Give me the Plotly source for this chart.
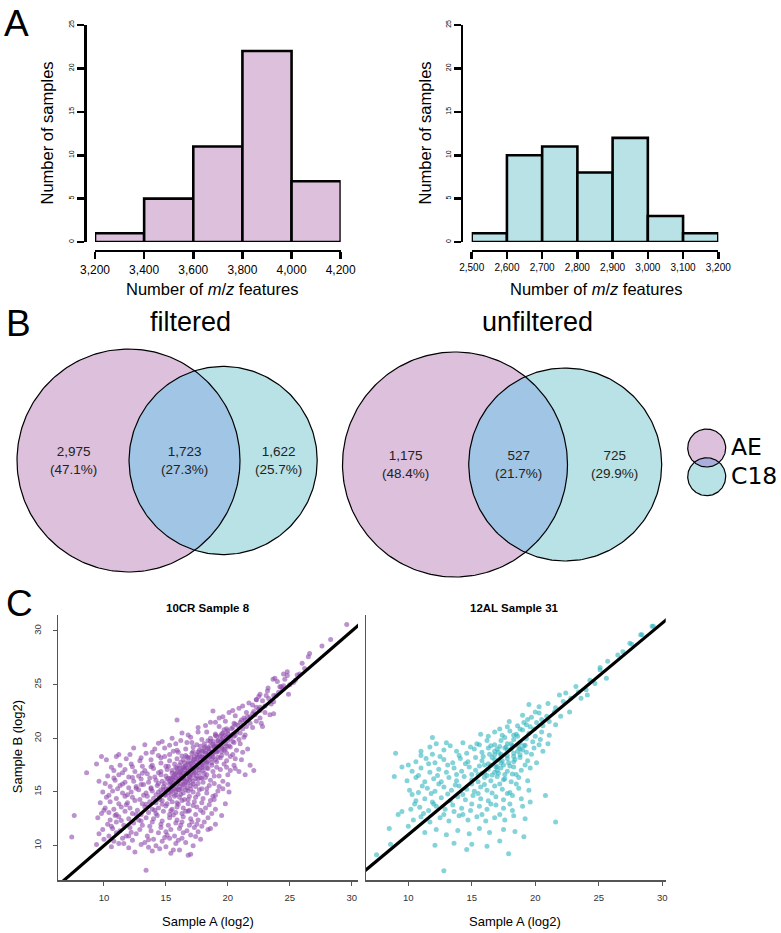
import numpy as np
import plotly.graph_objects as go

W, H = 781, 933

# ---------------- Panel A data ----------------
ae_bin_edges = [3200, 3400, 3600, 3800, 4000, 4200]
ae_counts = [1, 5, 11, 22, 7]
c18_bin_edges = [2500, 2600, 2700, 2800, 2900, 3000, 3100, 3200]
c18_counts = [1, 10, 11, 8, 12, 3, 1]
hist_y_ticks = [0, 5, 10, 15, 20, 25]

# ---------------- Panel B data ----------------
venn_titles = ["filtered", "unfiltered"]
venn_ae_only = [2975, 1175]
venn_both = [1723, 527]
venn_c18_only = [1622, 725]
venn_set_names = ["AE", "C18"]

# ---------------- Panel C data ----------------
scatter_titles = ["10CR Sample 8", "12AL Sample 31"]
scatter_ticks = [10, 15, 20, 25, 30]

left_pts = [
    (13.4,7.7),(16.8,9.1),(17.0,9.2),(12.5,9.4),(13.9,9.5),(15.4,9.3),(16.1,9.6),(14.5,9.7),
    (9.4,10.1),(10.6,9.9),(11.2,10.2),(12.0,9.8),(13.0,10.1),(14.2,10.0),(15.0,9.9),(15.8,10.2),(17.2,10.0),
    (10.0,10.6),(10.8,10.4),(11.5,10.7),(12.3,10.5),(13.3,10.3),(14.0,10.6),(14.7,10.4),(15.3,10.7),(16.0,10.5),(16.6,10.3),(17.8,10.6),
    (7.4,10.8),(9.6,11.1),(10.4,10.9),(11.0,11.2),(11.8,10.9),(12.6,11.1),(13.5,10.9),(14.4,11.2),(15.1,11.0),(15.7,10.9),(16.4,11.2),(17.0,11.0),(17.6,11.3),(18.6,11.6),
    (9.9,11.5),(10.7,11.6),(11.3,11.4),(12.1,11.7),(12.9,11.5),(13.8,11.4),(14.6,11.7),(15.4,11.5),(16.1,11.6),(16.7,11.4),(17.3,11.7),(18.4,11.5),
    (10.3,12.0),(11.0,12.2),(11.6,11.9),(12.4,12.1),(13.1,11.9),(13.9,12.2),(14.6,12.0),(15.2,11.9),(15.8,12.1),(16.3,12.2),(16.9,11.9),(17.5,12.0),(18.1,12.2),(19.0,12.0),
    (9.5,12.6),(10.5,12.4),(11.2,12.7),(12.0,12.5),(12.8,12.4),(13.4,12.6),(14.0,12.5),(14.7,12.3),(15.3,12.6),(15.9,12.4),(16.4,12.7),(17.0,12.5),(17.6,12.4),(18.4,12.6),
    (7.6,12.8),
    (9.8,13.0),(10.4,13.1),(11.0,12.9),(11.7,13.2),(12.3,13.0),(13.0,12.9),(13.6,13.1),(14.2,13.0),(14.8,13.2),(15.3,12.9),(15.8,13.1),(16.3,13.0),(16.8,13.2),(17.4,12.9),(18.0,13.1),(18.7,13.0),(19.5,12.8),
    (10.1,13.5),(10.8,13.4),(11.4,13.6),(12.1,13.5),(12.7,13.3),(13.3,13.6),(13.9,13.4),(14.4,13.5),(15.0,13.7),(15.5,13.4),(15.9,13.6),(16.4,13.5),(16.9,13.3),(17.5,13.6),(18.2,13.5),(19.0,13.4),
    (9.7,14.0),(10.5,14.1),(11.2,13.9),(11.9,14.0),(12.5,14.2),(13.1,13.9),(13.7,14.1),(14.2,14.0),(14.7,14.2),(15.1,13.9),(15.5,14.1),(15.9,14.0),(16.3,14.2),(16.8,13.9),(17.3,14.1),(17.9,14.0),(18.6,14.2),(19.8,13.9),
    (10.2,14.5),(11.0,14.4),(11.7,14.6),(12.3,14.5),(12.9,14.3),(13.5,14.6),(14.0,14.4),(14.5,14.5),(14.9,14.7),(15.3,14.4),(15.7,14.6),(16.1,14.5),(16.5,14.3),(16.9,14.6),(17.4,14.5),(18.0,14.4),(18.8,14.6),
    (9.9,15.0),(10.7,15.1),(11.5,14.9),(12.2,15.0),(12.8,15.2),(13.4,14.9),(13.9,15.1),(14.4,15.0),(14.8,15.2),(15.2,14.9),(15.5,15.1),(15.8,15.0),(16.1,15.2),(16.4,14.9),(16.8,15.1),(17.2,15.0),(17.7,15.2),(18.3,14.9),(19.2,15.1),(20.1,15.0),
    (10.5,15.5),(11.3,15.6),(12.0,15.4),(12.6,15.5),(13.2,15.7),(13.8,15.4),(14.3,15.6),(14.8,15.5),(15.2,15.3),(15.5,15.6),(15.8,15.4),(16.1,15.5),(16.4,15.7),(16.7,15.4),(17.0,15.6),(17.4,15.5),(17.9,15.3),(18.5,15.6),(19.3,15.5),
    (9.6,16.0),(10.9,16.1),(11.7,15.9),(12.4,16.0),(13.0,16.2),(13.6,15.9),(14.2,16.1),(14.7,16.0),(15.1,16.2),(15.4,15.9),(15.7,16.1),(16.0,16.0),(16.3,16.2),(16.6,15.9),(16.9,16.1),(17.2,16.0),(17.6,16.2),(18.0,15.9),(18.6,16.1),(19.6,16.0),
    (10.3,16.5),(11.2,16.6),(12.0,16.4),(12.8,16.5),(13.5,16.7),(14.1,16.4),(14.6,16.6),(15.0,16.5),(15.4,16.3),(15.7,16.6),(16.0,16.4),(16.3,16.5),(16.6,16.7),(16.9,16.4),(17.2,16.6),(17.5,16.5),(17.9,16.3),(18.3,16.6),(18.9,16.5),(20.0,16.6),(21.4,16.6),
    (8.6,16.8),
    (10.8,17.0),(11.7,17.1),(12.5,16.9),(13.3,17.0),(14.0,17.2),(14.6,16.9),(15.1,17.1),(15.5,17.0),(15.9,17.2),(16.2,16.9),(16.5,17.1),(16.8,17.0),(17.1,17.2),(17.4,16.9),(17.7,17.1),(18.0,17.0),(18.4,17.2),(18.8,16.9),(19.4,17.1),(20.2,17.0),(22.1,17.0),
    (9.4,17.6),(11.3,17.5),(12.2,17.6),(13.1,17.4),(13.9,17.5),(14.6,17.7),(15.2,17.4),(15.7,17.6),(16.1,17.5),(16.5,17.3),(16.8,17.6),(17.1,17.4),(17.4,17.5),(17.7,17.7),(18.0,17.4),(18.3,17.6),(18.7,17.5),(19.1,17.3),(19.7,17.6),(20.5,17.5),(21.8,17.5),
    (10.2,18.0),(11.8,18.1),(12.9,17.9),(13.8,18.0),(14.6,18.2),(15.3,17.9),(15.9,18.1),(16.4,18.0),(16.8,18.2),(17.2,17.9),(17.5,18.1),(17.8,18.0),(18.1,18.2),(18.4,17.9),(18.7,18.1),(19.0,18.0),(19.4,18.2),(19.9,17.9),(20.6,18.1),
    (9.8,18.3),(11.2,18.5),(13.4,18.6),(14.4,18.4),(15.3,18.5),(16.0,18.7),(16.6,18.4),(17.1,18.6),(17.5,18.5),(17.9,18.3),(18.2,18.6),(18.5,18.4),(18.8,18.5),(19.1,18.7),(19.5,18.4),(19.9,18.6),(20.4,18.5),
    (12.4,19.1),(14.1,19.0),(14.9,19.1),(15.9,18.9),(16.6,19.0),(17.2,19.2),(17.7,18.9),(18.1,19.1),(18.5,19.0),(18.9,19.2),(19.2,18.9),(19.5,19.1),(19.8,19.0),(20.2,19.2),(20.7,18.9),
    (14.7,19.7),(15.8,19.5),(16.7,19.6),(17.5,19.4),(18.1,19.5),(18.6,19.7),(19.0,19.4),(19.4,19.6),(19.8,19.5),(20.1,19.3),(20.5,19.6),(21.0,19.5),
    (15.5,20.0),(17.0,20.1),(17.9,19.9),(18.6,20.0),(19.1,20.2),(19.5,19.9),(19.9,20.1),(20.2,20.0),(20.5,20.2),(20.9,19.9),(21.3,20.1),
    (16.3,20.5),(18.3,20.6),(19.0,20.4),(19.6,20.5),(20.0,20.7),(20.4,20.4),(20.7,20.6),(21.0,20.5),(21.4,20.3),
    (17.6,21.0),(19.3,21.1),(19.9,20.9),(20.4,21.0),(20.8,21.2),(21.2,20.9),(21.5,21.1),(22.0,21.0),
    (15.9,21.7),(19.0,21.5),(19.8,21.6),(20.5,21.4),(21.0,21.5),(21.4,21.7),(21.8,21.4),(22.3,21.6),
    (19.6,22.0),(20.6,22.1),(21.3,21.9),(21.8,22.0),(22.2,22.2),(22.6,21.9),
    (18.8,22.55),(20.4,22.6),(21.5,22.4),(22.1,22.5),(22.5,22.7),(23.0,22.4),
    (21.2,23.0),(22.0,23.1),(22.6,22.9),(23.0,23.0),(23.5,23.2),
    (22.3,23.6),(22.8,23.5),(23.3,23.7),(23.7,23.4),
    (29.6,30.6),(28.3,29.2),(27.6,28.6),(26.6,27.9),(26.5,27.6),(26.0,27.0),(24.8,26.2),(24.5,26.0),(24.8,25.85),(25.8,26.0),
    (23.65,25.5),(23.8,25.6),(25.45,25.4),(25.3,25.2),(24.3,24.8),(24.5,24.9),(24.4,24.6),(25.0,25.0),(23.25,24.7),(24.9,24.1),
    (24.1,24.3),(23.9,24.0),(22.6,24.1),(23.7,24.0),(22.3,23.6),(23.7,22.3),(23.4,22.2),(22.7,21.4),(22.8,21.1),(26.2,26.5),
    (25.6,25.9),(24.2,24.8),(23.1,24.0),(22.6,22.6),
    (14.6,15.22),(15.0,15.31),(15.4,15.18),(15.7,15.29),(16.0,15.21),(16.3,15.33),(16.6,15.2),(17.0,15.28),
    (14.9,15.76),(15.3,15.71),(15.6,15.82),(15.9,15.74),(16.2,15.79),(16.5,15.7),(16.8,15.83),(17.2,15.75),(17.6,15.78),
    (15.2,16.27),(15.5,16.22),(15.8,16.31),(16.1,16.24),(16.4,16.3),(16.7,16.21),(17.0,16.28),(17.4,16.25),(17.8,16.32),
    (15.5,16.77),(15.8,16.72),(16.1,16.8),(16.4,16.74),(16.7,16.79),(17.0,16.71),(17.3,16.78),(17.7,16.76),(18.1,16.73),
    (15.8,17.27),(16.1,17.22),(16.4,17.3),(16.7,17.24),(17.0,17.29),(17.3,17.21),(17.6,17.28),(17.9,17.26),(18.3,17.23),
    (16.2,17.77),(16.5,17.72),(16.8,17.8),(17.1,17.74),(17.4,17.79),(17.7,17.71),(18.0,17.78),(18.3,17.76),(18.7,17.73),
    (16.7,18.27),(17.0,18.22),(17.3,18.3),(17.6,18.24),(17.9,18.29),(18.2,18.21),(18.5,18.28),(18.8,18.26),(19.2,18.23),
    (17.2,18.77),(17.6,18.72),(17.9,18.8),(18.2,18.74),(18.5,18.79),(18.8,18.71),(19.1,18.78),(19.5,18.76),
    (17.8,19.27),(18.2,19.22),(18.6,19.3),(18.9,19.24),(19.2,19.29),(19.5,19.21),(19.9,19.28),
    (18.4,19.77),(18.8,19.72),(19.2,19.8),(19.6,19.74),(20.0,19.79),(20.4,19.71),
    (19.0,20.27),(19.4,20.22),(19.8,20.3),(20.2,20.24),(20.6,20.29),
    (14.2,14.75),(14.6,14.8),(15.0,14.72),(15.4,14.78),(15.8,14.74),(16.2,14.8),
    (10.6,11.8),(11.4,12.35),(12.2,11.25),(13.0,12.3),(13.7,11.8),(14.3,12.8),(15.0,11.3),(15.6,12.85),(16.2,11.9),(17.1,12.2),(17.9,11.8),
    (10.0,13.3),(10.9,12.8),(11.8,13.8),(12.6,12.9),(13.4,13.85),(14.1,13.3),(14.7,13.85),(15.4,13.25),(16.0,13.85),(16.6,13.2),(17.2,13.75),(17.8,13.3),(18.5,13.8),
    (10.4,14.7),(11.1,15.3),(11.9,14.75),(12.6,15.35),(13.2,14.7),(13.8,15.3),(14.5,14.3),(16.8,14.3),(17.6,14.8),(18.3,15.3),(19.0,14.7),
    (10.1,15.8),(10.8,16.3),(11.5,15.75),(12.3,16.35),(13.0,15.7),(13.7,16.3),(14.4,15.8),(18.2,16.35),(18.9,15.8),(19.3,16.5),
    (10.6,17.3),(11.5,16.8),(12.3,17.35),(13.1,16.75),(13.8,17.35),(14.4,16.8),(15.0,17.4),(19.1,17.8),(19.9,17.3),
    (11.0,18.3),(12.1,18.5),(13.0,18.2),(13.9,18.7),(14.9,18.3),(15.6,18.8),(16.3,18.35),(19.7,18.9),(20.2,18.3),
    (13.3,19.4),(14.4,19.55),(15.3,19.35),(16.2,19.8),(17.1,19.6),(16.8,20.3),(17.6,20.6),(18.2,21.2),
    (18.6,21.5),(19.3,21.9),(20.1,22.4),(20.9,22.8),(21.7,23.3),(22.5,23.9),(23.2,24.4),(24.0,25.3),(24.6,25.5),
    (12.0,10.9),(13.6,10.55),(14.9,10.75),(16.3,10.7),(17.4,10.85),(11.6,10.2),(13.6,9.85),(15.6,9.6),
    (20.6,17.2),(21.1,18.0),(20.9,16.9),(21.6,19.0),(21.2,18.7),(20.0,15.7),(19.6,15.3),(18.9,14.3),
    (19.5,20.4),(19.7,20.8),(20.3,20.9),(20.6,21.3),(21.1,21.7),(21.6,22.0),(22.0,22.3),(22.3,22.9),
    (15.3,16.0),(15.6,16.45),(16.2,16.6),(16.5,16.1),(16.9,16.55),(17.2,17.0),(17.5,17.35),(17.9,17.55),(18.1,17.95),(18.4,18.45),
    (18.7,18.6),(19.0,18.95),(15.9,16.85),(16.3,17.05),(16.6,17.45),(17.0,17.65),(17.3,18.05),(17.7,18.45),(18.0,18.8),(18.4,19.1),
    (18.8,19.45),(19.2,19.75),(19.6,20.05),(20.0,20.45),
]

right_pts = [
    (12.8,6.6),(7.5,8.1),(17.9,8.2),(8.6,9.1),(17.2,9.4),(19.1,9.8),(12.1,9.0),(13.6,9.2),(15.0,9.1),(16.2,8.9),(14.6,8.6),
    (8.5,10.6),(10.0,10.8),(11.3,10.2),(12.2,10.5),(13.0,10.0),(13.9,10.4),(14.8,10.1),(15.6,10.6),(16.4,10.2),(17.5,10.5),(18.4,10.3),
    (9.2,11.9),(10.4,11.4),(11.0,11.7),(11.7,11.2),(12.5,11.6),(13.2,11.3),(14.0,11.8),(14.7,11.4),(15.4,11.7),(16.1,11.3),(16.8,11.6),(17.6,11.4),(18.3,11.8),(19.2,11.5),(21.6,11.2),
    (9.5,12.2),(10.2,12.4),(10.9,12.6),(11.6,12.3),(12.2,12.7),(12.9,12.4),(13.5,12.8),(14.2,12.5),(14.9,12.3),(15.6,12.7),(16.2,12.4),(16.9,12.8),(17.5,12.5),(18.2,12.3),(19.0,12.7),(19.6,13.1),
    (10.6,13.2),(11.3,13.4),(11.9,13.1),(12.6,13.5),(13.3,13.2),(13.9,13.6),(14.5,13.3),(15.1,13.7),(15.7,13.4),(16.3,13.2),(16.9,13.6),(17.5,13.3),(18.2,13.7),(18.9,13.4),(20.8,13.7),
    (10.1,14.2),(10.8,14.0),(11.5,14.4),(12.1,14.1),(12.8,14.5),(13.4,14.2),(14.0,14.6),(14.6,14.3),(15.2,14.1),(15.7,14.5),(16.2,14.2),(16.8,14.6),(17.4,14.3),(18.0,14.0),(18.7,14.4),(19.5,14.2),
    (9.9,15.1),(10.6,15.4),(11.3,15.0),(12.0,15.3),(12.6,15.0),(13.2,15.4),(13.8,15.1),(14.4,15.5),(15.0,15.2),(15.5,15.0),(16.0,15.4),(16.5,15.1),(17.0,15.5),(17.5,15.2),(18.1,15.0),(18.7,15.4),(19.4,15.1),
    (8.9,15.5),(10.3,16.0),(11.0,16.3),(11.7,15.9),(12.4,16.2),(13.0,15.9),(13.6,16.3),(14.2,16.0),(14.8,16.4),(15.3,16.1),(15.8,15.8),(16.3,16.2),(16.8,15.9),(17.3,16.3),(17.8,16.0),(18.3,16.4),(18.9,16.1),(19.6,16.3),
    (9.5,16.4),(10.6,16.9),(11.4,17.2),(12.1,16.8),(12.8,17.1),(13.5,16.8),(14.1,17.2),(14.7,16.9),(15.3,17.3),(15.8,17.0),(16.3,16.7),(16.8,17.1),(17.3,16.8),(17.8,17.2),(18.3,16.9),(18.8,17.3),(19.4,17.0),(20.1,16.8),
    (9.0,17.7),(11.0,17.9),(11.9,17.6),(12.8,18.0),(13.8,17.9),(14.6,17.7),(15.2,18.1),(15.8,17.8),(16.3,18.2),(16.8,17.9),(17.3,17.6),(17.8,18.0),(18.3,17.7),(18.8,18.1),(19.3,17.8),(19.9,18.2),(20.6,17.9),
    (11.9,19.2),(12.2,18.6),(13.0,18.7),(14.3,18.7),(15.4,18.6),(16.2,18.9),(16.8,18.5),(17.3,18.9),(17.8,18.6),(18.3,19.0),(18.8,18.7),(19.3,19.1),(19.8,18.8),(20.4,19.0),(21.0,18.6),
    (15.7,19.5),(16.8,19.7),(17.4,19.4),(18.0,19.8),(18.5,19.5),(19.0,19.9),(19.5,19.6),(20.0,19.3),(20.5,19.7),(21.1,19.4),
    (17.95,20.7),(18.6,20.3),(19.1,20.6),(19.6,20.2),(20.1,20.6),(20.6,20.3),(21.1,20.7),(21.6,20.4),
    (19.0,21.3),(19.7,21.1),(20.3,21.5),(20.9,21.2),(21.5,21.6),(22.0,21.2),(22.7,21.6),
    (19.5,22.3),(20.3,22.1),(21.0,22.4),(21.6,22.0),(22.2,22.6),
    (21.9,23.2),(22.4,23.4),(22.8,22.9),(23.2,24.0),(23.4,23.5),(23.6,22.9),(24.0,23.7),(24.1,23.2),
    (24.3,24.6),(24.7,24.3),(25.1,25.6),(25.6,24.8),(25.1,25.8),(25.7,26.4),(26.5,27.0),(26.9,27.3),(27.45,28.1),(27.6,28.0),
    (28.3,28.9),(28.4,28.9),(29.2,29.7),(29.3,29.7),
    (16.5,16.55),(17.0,16.45),(17.5,16.6),(18.0,16.5),(16.8,17.55),(17.3,17.45),(17.8,17.5),(18.3,17.4),(18.8,17.55),
    (17.2,18.35),(17.7,18.3),(18.2,18.4),(18.7,18.3),(19.2,18.45),(16.0,16.6),(15.5,15.7),(16.0,15.85),(16.6,15.65),
    (17.1,15.8),(17.6,15.7),(18.2,15.75),
    (10.3,13.8),(11.1,14.6),(11.8,13.9),(12.4,14.8),(13.1,13.85),(13.7,14.7),(14.3,13.8),(15.0,14.8),(15.5,13.9),(16.0,14.75),
    (16.6,13.95),(17.2,14.8),(17.8,13.9),(18.5,14.8),
    (10.0,16.6),(10.8,15.6),(11.6,16.7),(12.3,15.6),(13.1,16.6),(13.8,15.7),(14.5,16.7),(15.0,15.7),(15.6,16.5),(16.2,15.6),
    (17.0,16.1),(17.6,15.3),(18.5,15.7),(19.2,16.6),
    (10.5,12.9),(11.2,12.0),(12.0,12.9),(12.8,11.9),(13.6,12.2),(14.3,11.9),(15.0,12.9),(15.8,11.9),(16.5,12.9),(17.2,11.9),(18.0,12.9),
    (11.0,17.5),(11.7,18.3),(12.5,17.4),(13.3,18.4),(14.0,17.5),(14.9,18.3),(15.6,18.5),(16.5,18.4),(17.0,18.1),(17.6,19.2),
    (18.1,18.1),(18.6,19.3),(19.1,18.4),(19.7,17.6),(20.3,18.5),
    (16.3,19.3),(17.2,20.0),(17.8,20.2),(18.3,19.4),(18.8,20.0),(19.3,20.4),(19.9,20.0),(20.5,20.9),(19.4,20.9),(20.0,21.6),
    (16.9,16.4),(17.4,17.0),(17.9,16.8),(18.4,17.1),(16.6,17.3),(17.1,17.8),(17.6,18.2),(18.1,18.6),(18.6,17.9),(19.0,18.0),
    (15.9,17.4),(16.4,17.6),
]

# ---------------- styling ----------------
PINK = "#DCC0DC"
CYAN = "#B8E2E6"
BLUE = "#A0C5E5"
LEG_OVERLAP = "#AAAEDC"
FONT = "Liberation Sans"


def fx(px):
    return px / W


def fy(py):
    return 1 - py / H


fig = go.Figure()

# ---------------- Panel A: histograms ----------------
def add_hist(edges, counts, color, xa, ya):
    mids = [(a + b) / 2 for a, b in zip(edges[:-1], edges[1:])]
    widths = [b - a for a, b in zip(edges[:-1], edges[1:])]
    fig.add_trace(go.Bar(x=mids, y=counts, width=widths, xaxis=xa, yaxis=ya,
                         marker=dict(color=color, line=dict(color="black", width=2.6)),
                         hoverinfo="skip"))


add_hist(ae_bin_edges, ae_counts, PINK, "x", "y")
add_hist(c18_bin_edges, c18_counts, CYAN, "x2", "y2")

hist_axis_common = dict(showline=True, linecolor="black", linewidth=2.6, ticks="outside",
                        ticklen=7, tickwidth=2.6, tickcolor="black", showgrid=False,
                        zeroline=False, anchor="free", fixedrange=True, automargin=False)

fig.update_layout(
    xaxis=dict(domain=[fx(95), fx(340.7)], range=[ae_bin_edges[0], ae_bin_edges[-1]],
               position=fy(250.7), tickvals=ae_bin_edges, tickformat=",",
               tickfont=dict(family=FONT, size=12, color="black"), **hist_axis_common),
    yaxis=dict(domain=[fy(242), fy(25)], range=[0, 25], position=fx(85),
               tickvals=hist_y_ticks, tickangle=-90,
               tickfont=dict(family=FONT, size=7, color="black"), **hist_axis_common),
    xaxis2=dict(domain=[fx(471.7), fx(718.3)], range=[c18_bin_edges[0], c18_bin_edges[-1]],
                position=fy(250.7), tickvals=c18_bin_edges, tickformat=",",
                tickfont=dict(family=FONT, size=10, color="black"), **hist_axis_common),
    yaxis2=dict(domain=[fy(242), fy(25)], range=[0, 25], position=fx(461.7),
                tickvals=hist_y_ticks, tickangle=-90,
                tickfont=dict(family=FONT, size=7, color="black"), **hist_axis_common),
)

# ---------------- Panel B: Venn diagrams ----------------
def lens_area(d, r1, r2):
    if d >= r1 + r2:
        return 0.0
    if d <= abs(r1 - r2):
        return np.pi * min(r1, r2) ** 2
    a1 = r1 ** 2 * np.arccos((d * d + r1 * r1 - r2 * r2) / (2 * d * r1))
    a2 = r2 ** 2 * np.arccos((d * d + r2 * r2 - r1 * r1) / (2 * d * r2))
    a3 = 0.5 * np.sqrt((-d + r1 + r2) * (d + r1 - r2) * (d - r1 + r2) * (d + r1 + r2))
    return a1 + a2 - a3


def solve_distance(r1, r2, target):
    lo, hi = abs(r1 - r2) + 1e-9, r1 + r2
    for _ in range(200):
        mid = (lo + hi) / 2
        if lens_area(mid, r1, r2) > target:
            lo = mid
        else:
            hi = mid
    return (lo + hi) / 2


def circle_xy(c, r, n=240):
    t = np.linspace(0, 2 * np.pi, n)
    return c[0] + r * np.cos(t), c[1] + r * np.sin(t)


def lens_xy(c1, r1, c2, r2, n=160):
    c1, c2 = np.asarray(c1, float), np.asarray(c2, float)
    v = c2 - c1
    d = np.hypot(*v)
    u = v / d
    perp = np.array([-u[1], u[0]])
    a = (d * d + r1 * r1 - r2 * r2) / (2 * d)
    h = np.sqrt(max(r1 * r1 - a * a, 0))
    th1 = np.arctan2(h, a)
    th2 = np.arctan2(h, a - d)
    t2 = np.linspace(th2, 2 * np.pi - th2, n)
    t1 = np.linspace(-th1, th1, n)
    loc = np.vstack([np.stack([d + r2 * np.cos(t2), r2 * np.sin(t2)], 1),
                     np.stack([r1 * np.cos(t1), r1 * np.sin(t1)], 1)])
    world = c1 + loc[:, :1] * u + loc[:, 1:2] * perp
    return world[:, 0], world[:, 1]


def add_venn_shapes(c1, r1, c2, r2, xa, ya, overlap_color, lw=1.2):
    for c, r, col in [(c1, r1, PINK), (c2, r2, CYAN)]:
        x, y = circle_xy(c, r)
        fig.add_trace(go.Scatter(x=x, y=y, xaxis=xa, yaxis=ya, mode="lines", fill="toself",
                                 fillcolor=col, line=dict(width=0), hoverinfo="skip"))
    lx, ly = lens_xy(c1, r1, c2, r2)
    fig.add_trace(go.Scatter(x=lx, y=ly, xaxis=xa, yaxis=ya, mode="lines", fill="toself",
                             fillcolor=overlap_color, line=dict(width=0), hoverinfo="skip"))
    for c, r in [(c1, r1), (c2, r2)]:
        x, y = circle_xy(c, r)
        fig.add_trace(go.Scatter(x=x, y=y, xaxis=xa, yaxis=ya, mode="lines",
                                 line=dict(color="black", width=lw), hoverinfo="skip"))


venn_ae_radius_px = [111.5, 112.5]
venn_center_px = [(128.5, 460.5), (455.0, 464.5)]
venn_box_px = [(0, 340), (340, 680)]
venn_title_x = [190, 537.5]
venn_axes = [("x5", "y5", "xaxis5", "yaxis5"), ("x6", "y6", "xaxis6", "yaxis6")]
annotations = []

for i in range(2):
    n_ae = venn_ae_only[i] + venn_both[i]
    n_c18 = venn_c18_only[i] + venn_both[i]
    total = venn_ae_only[i] + venn_both[i] + venn_c18_only[i]
    r1 = np.sqrt(n_ae / np.pi)
    r2 = np.sqrt(n_c18 / np.pi)
    d = solve_distance(r1, r2, venn_both[i])
    s = venn_ae_radius_px[i] / r1
    cx, cy = venn_center_px[i]
    bx0, bx1 = venn_box_px[i]
    by0, by1 = 335, 590
    xa, ya, xk, yk = venn_axes[i]
    fig.layout[xk] = dict(domain=[fx(bx0), fx(bx1)], range=[(bx0 - cx) / s, (bx1 - cx) / s],
                          visible=False, anchor=ya, fixedrange=True, automargin=False)
    fig.layout[yk] = dict(domain=[fy(by1), fy(by0)], range=[(cy - by1) / s, (cy - by0) / s],
                          visible=False, anchor=xa, fixedrange=True, automargin=False)
    add_venn_shapes((0, 0), r1, (d, 0), r2, xa, ya, BLUE)
    label_x = [(-r1 + d - r2) / 2, (d - r2 + r1) / 2, (r1 + d + r2) / 2]
    label_n = [venn_ae_only[i], venn_both[i], venn_c18_only[i]]
    for lx_, n in zip(label_x, label_n):
        annotations.append(dict(x=lx_, y=0, xref=xa, yref=ya, showarrow=False,
                                text=f"{n:,}<br>({100 * n / total:.1f}%)",
                                font=dict(family=FONT, size=13.5, color="#222"),
                                align="center", xanchor="center", yanchor="middle"))
    annotations.append(dict(x=fx(venn_title_x[i]), y=fy(322), xref="paper", yref="paper",
                            showarrow=False, text=venn_titles[i],
                            font=dict(family=FONT, size=27, color="black"),
                            xanchor="center", yanchor="middle"))

# Venn legend (pixel-unit axes)
fig.layout["xaxis7"] = dict(domain=[fx(675), fx(781)], range=[675, 781], visible=False,
                            anchor="y7", fixedrange=True, automargin=False)
fig.layout["yaxis7"] = dict(domain=[fy(505), fy(420)], range=[505, 420], visible=False,
                            anchor="x7", fixedrange=True, automargin=False)
add_venn_shapes((706.7, 448), 19, (706.7, 476.7), 19, "x7", "y7", LEG_OVERLAP, lw=1.2)
for name, ypx in zip(venn_set_names, [446.5, 475.5]):
    annotations.append(dict(x=fx(729), y=fy(ypx), xref="paper", yref="paper", showarrow=False,
                            text=name, font=dict(family="DejaVu Sans", size=23.5, color="black"),
                            xanchor="left", yanchor="middle"))

# ---------------- Panel C: scatter plots ----------------
lx = [p[0] for p in left_pts]
ly = [p[1] for p in left_pts]
rx = [p[0] for p in right_pts]
ry = [p[1] for p in right_pts]

left_xrange = [6.29, 30.51]
left_yrange = [6.8, 31.49]
right_xrange = [6.67, 30.27]
right_yrange = [5.72, 30.77]

fig.add_trace(go.Scatter(x=lx, y=ly, xaxis="x3", yaxis="y3", mode="markers",
                         marker=dict(size=5, color="rgba(142,74,172,0.6)", line=dict(width=0)),
                         hoverinfo="skip"))
fig.add_trace(go.Scatter(x=rx, y=ry, xaxis="x4", yaxis="y4", mode="markers",
                         marker=dict(size=5, color="rgba(50,182,192,0.6)", line=dict(width=0)),
                         hoverinfo="skip"))
for xa, ya, xr, yr in [("x3", "y3", left_xrange, left_yrange), ("x4", "y4", right_xrange, right_yrange)]:
    lo = min(xr[0], yr[0])
    hi = max(xr[1], yr[1])
    fig.add_trace(go.Scatter(x=[lo, hi], y=[lo, hi], xaxis=xa, yaxis=ya, mode="lines",
                             line=dict(color="black", width=3.2), hoverinfo="skip"))

sc_common = dict(showline=True, linecolor="#555", linewidth=1.5, showgrid=False, zeroline=False,
                 fixedrange=True, automargin=False)
tick_font = dict(family=FONT, size=9.5, color="#333")
fig.update_layout(
    xaxis3=dict(domain=[fx(58), fx(358)], range=left_xrange, anchor="y3", tickvals=scatter_ticks,
                ticks="outside", ticklen=4, tickcolor="#555", tickfont=tick_font,
                ticklabelstandoff=4, **sc_common),
    yaxis3=dict(domain=[fy(880), fy(615)], range=left_yrange, anchor="x3", tickvals=scatter_ticks,
                ticks="outside", ticklen=4, tickcolor="#555", tickangle=-90, tickfont=tick_font,
                ticklabelstandoff=8, **sc_common),
    xaxis4=dict(domain=[fx(366), fx(665.7)], range=right_xrange, anchor="y4", tickvals=scatter_ticks,
                ticks="outside", ticklen=4, tickcolor="#555", tickfont=tick_font,
                ticklabelstandoff=4, **sc_common),
    yaxis4=dict(domain=[fy(880), fy(615)], range=right_yrange, anchor="x4", showticklabels=False,
                ticks="", **sc_common),
)

# ---------------- text annotations ----------------
def paper_text(x, y, text, size, angle=0, family=FONT, bold=False, xanchor="center"):
    annotations.append(dict(x=fx(x), y=fy(y), xref="paper", yref="paper", showarrow=False,
                            text=f"<b>{text}</b>" if bold else text, textangle=angle,
                            font=dict(family=family, size=size, color="black"),
                            xanchor=xanchor, yanchor="middle"))


paper_text(2, 23, "A", 37, xanchor="left")
paper_text(4, 323, "B", 37, xanchor="left")
paper_text(4, 603, "C", 37, xanchor="left")

paper_text(212, 289, "Number of <i>m</i>/<i>z</i> features", 16.5)
paper_text(596, 289, "Number of <i>m</i>/<i>z</i> features", 16.5)
paper_text(46, 133.5, "Number of samples", 16.5, angle=-90)
paper_text(424, 133.5, "Number of samples", 16.5, angle=-90)

paper_text(207.5, 607.5, scatter_titles[0], 11.5, bold=True)
paper_text(514.7, 607.5, scatter_titles[1], 11.5, bold=True)
paper_text(207.8, 921, "Sample A (log2)", 13)
paper_text(515, 921, "Sample A (log2)", 13)
paper_text(17.5, 746.7, "Sample B (log2)", 13, angle=-90)

fig.update_layout(
    width=W, height=H, margin=dict(l=0, r=0, t=0, b=0, pad=0, autoexpand=False), showlegend=False,
    paper_bgcolor="white", plot_bgcolor="rgba(0,0,0,0)", annotations=annotations,
    font=dict(family=FONT),
)

fig.write_html("out.html", config={"displayModeBar": False, "staticPlot": True},
               post_script="document.body.style.margin='0px';document.body.style.overflow='hidden';")
